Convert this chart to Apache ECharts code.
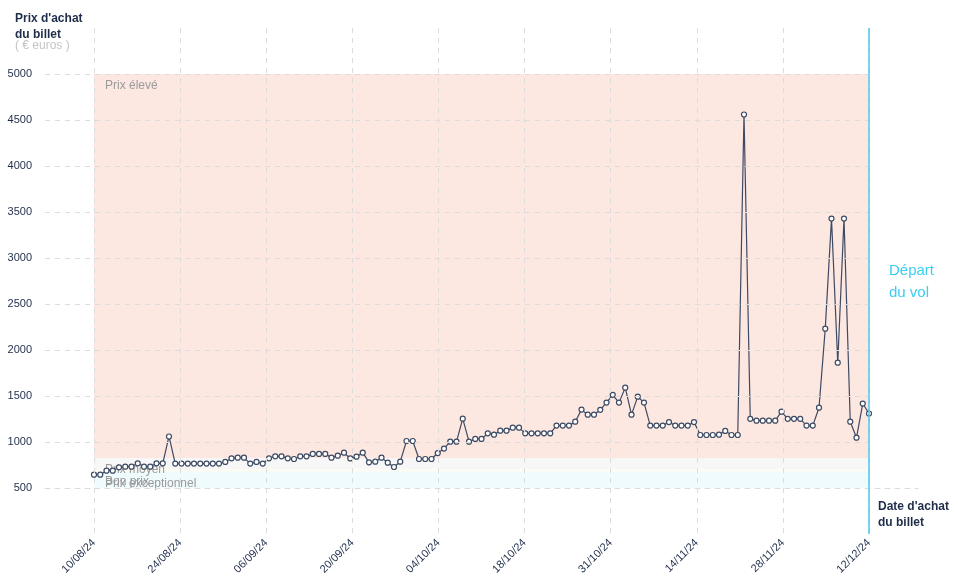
<!DOCTYPE html>
<html>
<head>
<meta charset="utf-8">
<script src="https://cdn.jsdelivr.net/npm/echarts@6/dist/echarts.min.js"></script>
<style>
html,body{margin:0;padding:0;background:#fff;}
#chart{width:958px;height:585px;}
</style>
</head>
<body>
<div id="chart"></div>
<script>
// ---- data ----
var startDate = '2024-08-10';
var prices = [
  645, 645, 688, 688, 725, 732, 732, 768, 732, 732, 768, 768, 1060,
  765, 765, 765, 765, 765, 765, 765, 765,
  783, 823, 830, 830, 765, 783, 765, 823, 844, 844,
  823, 815, 844, 844, 870, 870, 870, 830, 851, 884,
  821, 841, 884, 779, 786, 830, 775, 728, 786, 1011,
  1011, 815, 815, 815, 880, 928, 1004, 1004, 1254, 1004,
  1033, 1033, 1094, 1080, 1123, 1123, 1156, 1156, 1094, 1094,
  1094, 1094, 1094, 1178, 1178, 1178, 1221, 1352, 1297, 1297,
  1350, 1428, 1513, 1428, 1591, 1297, 1493, 1428, 1178, 1178,
  1178, 1217, 1178, 1178, 1178, 1217, 1076, 1076, 1076, 1080,
  1120, 1076, 1076, 4560, 1252, 1232, 1232, 1232, 1232, 1330,
  1252, 1252, 1252, 1178, 1178, 1373, 2232, 3428, 1862, 3428,
  1221, 1047, 1418, 1310
];
var tickLabels = ['10/08/24','24/08/24','06/09/24','20/09/24','04/10/24','18/10/24','31/10/24','14/11/24','28/11/24','12/12/24'];
var bandNames = ['Prix élevé', 'Prix moyen', 'Bon prix', 'Prix exceptionnel'];
var bandFrom  = [825, 700, 680, 500];
var bandTo    = [5000, 825, 700, 680];
var bandColors = ['#fde7e1', '#f7f7f7', '#fdfcee', '#f0fbfd'];
var departLabel = 'Départ\ndu vol';
var yTitle = "Prix d'achat\ndu billet";
var ySub = '( € euros )';
var xTitle = "Date d'achat\ndu billet";

// categories (one per day, from the start date)
var categories = [];
(function(){
  var d = new Date(startDate + 'T00:00:00Z');
  for (var i = 0; i < prices.length; i++) {
    var dd = ('0' + d.getUTCDate()).slice(-2);
    var mm = ('0' + (d.getUTCMonth() + 1)).slice(-2);
    var yy = String(d.getUTCFullYear()).slice(-2);
    categories.push(dd + '/' + mm + '/' + yy);
    d.setUTCDate(d.getUTCDate() + 1);
  }
})();

var FONT = 'Liberation Sans, Arial, sans-serif';
var DARK = '#1f2d4a';
var GRID_COLOR = '#dcdcdc';

var areaData = bandNames.map(function(n, k){
  return [
    {name: n, yAxis: bandFrom[k], itemStyle: {color: bandColors[k]}},
    {yAxis: bandTo[k]}
  ];
});

var chart = echarts.init(document.getElementById('chart'), null, {renderer: 'canvas'});
chart.setOption({
  animation: false,
  textStyle: {fontFamily: FONT},
  title: [
    {text: yTitle, left: 15, top: 11, padding: 0, textStyle: {fontSize: 12, fontWeight: 'bold', color: DARK, lineHeight: 16, fontFamily: FONT}},
    {text: ySub, left: 15, top: 40, padding: 0, textStyle: {fontSize: 12, fontWeight: 'normal', color: '#c4c4c4', fontFamily: FONT}},
    {text: departLabel, left: 889, top: 260, padding: 0, textStyle: {fontSize: 15, fontWeight: 'normal', color: '#3ccdf0', lineHeight: 22, fontFamily: FONT}},
    {text: xTitle, left: 878, top: 499, padding: 0, textStyle: {fontSize: 12, fontWeight: 'bold', color: DARK, lineHeight: 16, fontFamily: FONT}}
  ],
  grid: [
    {left: 45, right: 90, top: 28, bottom: 51},
    {left: 94, right: 89, top: 28, bottom: 51},
    {left: 45, right: 40, top: 28, bottom: 97}
  ],
  xAxis: [
    {gridIndex: 0, type: 'value', show: false, min: 0, max: 1},
    {gridIndex: 1, type: 'category', data: categories, boundaryGap: false, show: false},
    {gridIndex: 1, type: 'value', min: 0, max: tickLabels.length - 1, interval: 1, position: 'bottom', z: 3,
      axisLine: {show: false}, axisTick: {show: false},
      splitLine: {show: true, lineStyle: {color: GRID_COLOR, type: [5, 5], width: 1}},
      axisLabel: {rotate: 45, margin: 7, fontSize: 11, color: DARK, fontFamily: FONT,
        formatter: function(v){ return tickLabels[Math.round(v)] || ''; }}},
    {gridIndex: 2, type: 'value', min: 0, max: 1, position: 'bottom', z: 3,
      axisLine: {show: true, lineStyle: {color: GRID_COLOR, type: [5, 5], width: 1}},
      axisTick: {show: false}, axisLabel: {show: false}, splitLine: {show: false}}
  ],
  yAxis: [
    {gridIndex: 0, type: 'value', min: 0, max: 5500, interval: 500, z: 3,
      axisLine: {show: false}, axisTick: {show: false},
      axisLabel: {showMinLabel: false, showMaxLabel: false, margin: 13, fontSize: 11, color: DARK, fontFamily: FONT,
        formatter: function(v){ return String(v); }},
      splitLine: {show: true, showMinLine: false, showMaxLine: false, lineStyle: {color: GRID_COLOR, type: [5, 5], width: 1}}},
    {gridIndex: 1, type: 'value', min: 0, max: 5500, interval: 500, show: false},
    {gridIndex: 2, type: 'value', min: 0, max: 1, show: false}
  ],
  series: [{
    type: 'line',
    xAxisIndex: 1,
    yAxisIndex: 1,
    data: prices,
    showAllSymbol: true,
    symbol: 'circle',
    symbolSize: 5,
    lineStyle: {color: '#3d4a63', width: 1.2},
    itemStyle: {color: '#ffffff', borderColor: '#3d4a63', borderWidth: 1.2},
    z: 2,
    markArea: {
      silent: true,
      label: {show: true, position: 'insideTopLeft', offset: [6, 1], color: '#9a9a9a', fontSize: 12, fontFamily: FONT},
      data: areaData
    },
    markLine: {
      silent: true,
      symbol: 'none',
      label: {show: false},
      lineStyle: {color: '#4cc9ea', type: 'solid', width: 1.5},
      data: [{xAxis: categories.length - 1}]
    }
  }]
});
</script>
</body>
</html>
